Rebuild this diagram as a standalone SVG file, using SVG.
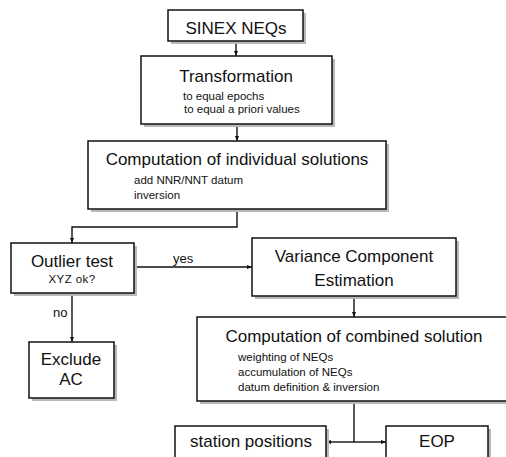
<svg xmlns="http://www.w3.org/2000/svg" width="506" height="457" viewBox="0 0 506 457">
<style>
.box{fill:#fff;stroke:#111;stroke-width:1.5}
.sh{fill:#b8b8b8}
.t{font-family:"Liberation Sans",Arial,sans-serif;font-size:17px;fill:#111;text-anchor:middle}
.s{font-family:"Liberation Sans",Arial,sans-serif;font-size:11.5px;fill:#111}
.l{font-family:"Liberation Sans",Arial,sans-serif;font-size:13px;fill:#111}
.c{fill:none;stroke:#111;stroke-width:1.4}
</style>
<defs>
<marker id="ah" viewBox="0 0 10 10" refX="10" refY="5" markerWidth="5" markerHeight="5" orient="auto" markerUnits="userSpaceOnUse">
<path d="M0,1 L10,5 L0,9 Z" fill="#111"/>
</marker>
</defs>
<rect width="506" height="457" fill="#fff"/>
<g id="connectors">
<path class="c" d="M236,41 V56" marker-end="url(#ah)"/>
<path class="c" d="M237,124 V141" marker-end="url(#ah)"/>
<path class="c" d="M237,209 V227 H72 V243" marker-end="url(#ah)"/>
<path class="c" d="M134,267 H252" marker-end="url(#ah)"/>
<path class="c" d="M72,293 V342" marker-end="url(#ah)"/>
<path class="c" d="M354,296 V317" marker-end="url(#ah)"/>
<path class="c" d="M354,401 V442"/>
<path class="c" d="M354,442 H326" marker-end="url(#ah)"/>
<path class="c" d="M354,442 H386" marker-end="url(#ah)"/>
<text class="l" x="173" y="263" font-size="14">yes</text>
<text class="l" x="53" y="317">no</text>
</g>
<g id="sinex">
<rect class="sh" x="171" y="13" width="135" height="31"/>
<rect class="box" x="168" y="10" width="135" height="31"/>
<text class="t" x="236" y="34">SINEX NEQs</text>
</g>
<g id="transformation">
<rect class="sh" x="144" y="59" width="191" height="68"/>
<rect class="box" x="141" y="56" width="191" height="68"/>
<text class="t" x="236" y="82">Transformation</text>
<text class="s" x="183" y="100">to equal epochs</text>
<text class="s" x="184" y="113">to equal a priori values</text>
</g>
<g id="individual">
<rect class="sh" x="91" y="144" width="298" height="68"/>
<rect class="box" x="88" y="141" width="298" height="68"/>
<text class="t" x="237" y="165">Computation of individual solutions</text>
<text class="s" x="134" y="184">add NNR/NNT datum</text>
<text class="s" x="134" y="199">inversion</text>
</g>
<g id="outlier">
<rect class="sh" x="14" y="246" width="123" height="50"/>
<rect class="box" x="11" y="243" width="123" height="50"/>
<text class="t" x="72" y="267">Outlier test</text>
<text class="s" x="72" y="283" font-size="10.5" text-anchor="middle" letter-spacing="0.4">XYZ ok?</text>
</g>
<g id="variance">
<rect class="sh" x="255" y="241" width="204" height="58"/>
<rect class="box" x="252" y="238" width="204" height="58"/>
<text class="t" x="354" y="262">Variance Component</text>
<text class="t" x="354" y="286">Estimation</text>
</g>
<g id="exclude">
<rect class="sh" x="32" y="345" width="85" height="56"/>
<rect class="box" x="29" y="342" width="85" height="56"/>
<text class="t" x="71" y="365" font-size="15">Exclude</text>
<text class="t" x="71" y="385" font-size="15">AC</text>
</g>
<g id="combined">
<rect class="sh" x="200" y="320" width="320" height="84"/>
<rect class="box" x="197" y="317" width="320" height="84"/>
<text class="t" x="354" y="342">Computation of combined solution</text>
<text class="s" x="238" y="361">weighting of NEQs</text>
<text class="s" x="238" y="376">accumulation of NEQs</text>
<text class="s" x="238" y="391">datum definition &amp; inversion</text>
</g>
<g id="station">
<rect class="sh" x="178" y="429" width="151" height="40"/>
<rect class="box" x="175" y="426" width="151" height="40"/>
<text class="t" x="251" y="447" font-size="15">station positions</text>
</g>
<g id="eop">
<rect class="sh" x="389" y="429" width="102" height="40"/>
<rect class="box" x="386" y="426" width="102" height="40"/>
<text class="t" x="437" y="447" font-size="16">EOP</text>
</g>
</svg>
